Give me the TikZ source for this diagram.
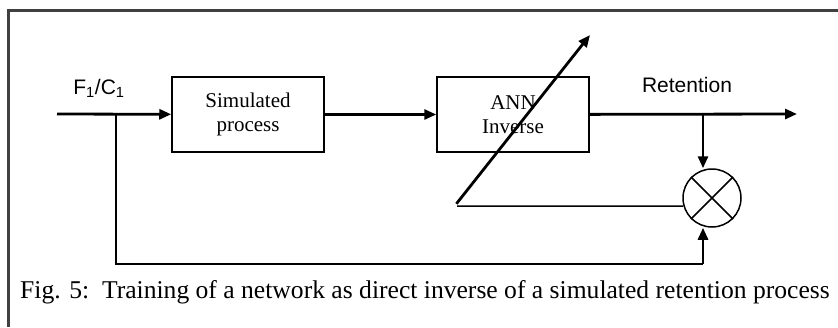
\documentclass[tikz,border=0pt]{standalone}
\usepackage{fontspec}
\setmainfont{Liberation Serif}
\setsansfont{Liberation Sans}
\usetikzlibrary{arrows.meta,calc}

\begin{document}
\begin{tikzpicture}[x=1pt,y=-1pt,>={Triangle[length=12pt,width=10pt]},
                    block/.style={rectangle,draw,line width=1.5pt,minimum width=152pt,minimum height=75pt,
                                  align=center,font=\fontsize{21}{24}\selectfont},
                    signal/.style={line width=2.8pt,->},
                    feed/.style={line width=1.5pt},
                    label/.style={font=\sffamily\fontsize{21}{24}\selectfont}]
  \useasboundingbox (0,0) rectangle (838,327);
  % frame
  \draw[line width=3pt,black!75] (838,10) -- (8,10) -- (8,327);
  \node[block] (sim) at (248,114.5) {Simulated\\process};
  \node[block] (ann) at (513,114.5) {ANN\\Inverse};
  \node[circle,draw,line width=1.5pt,minimum size=58pt,inner sep=0pt] (mult) at (712,198) {};
  \draw[line width=1.5pt] (mult.north west) -- (mult.south east)
                          (mult.north east) -- (mult.south west);
  \coordinate (in) at (57,114);
  \coordinate (split) at (116,114);
  \coordinate (tap) at (703,114);
  \coordinate (out) at (797,114);
  \coordinate (bot) at (703,264);
  \coordinate (lo) at (457,206);
  \coordinate (tip) at (590,35);
  \node[label] (f1c1) at (99,88) {F\textsubscript{1}/C\textsubscript{1}};
  \node[label] (ret) at (687,85) {Retention};
  \draw[signal] (in) -- (sim);
  \draw[signal] (sim) -- (ann);
  \draw[signal] (ann) -- (out);
  \draw[signal] (tap) -- (tap |- mult.north);
  \draw[feed] (split) |- (bot);
  \draw[signal] (bot) -- (bot |- mult.south);
  \draw[feed] (mult.196) -- (lo);
  \draw[signal,shorten <=-1pt] ($(lo)+(0,-3)$) -- (tip);
  \node[font=\fontsize{25.6}{28}\selectfont] (cap) at (425,292)
    {Fig. 5:\ \ Training of a network as direct inverse of a simulated retention process};
\end{tikzpicture}
\end{document}
